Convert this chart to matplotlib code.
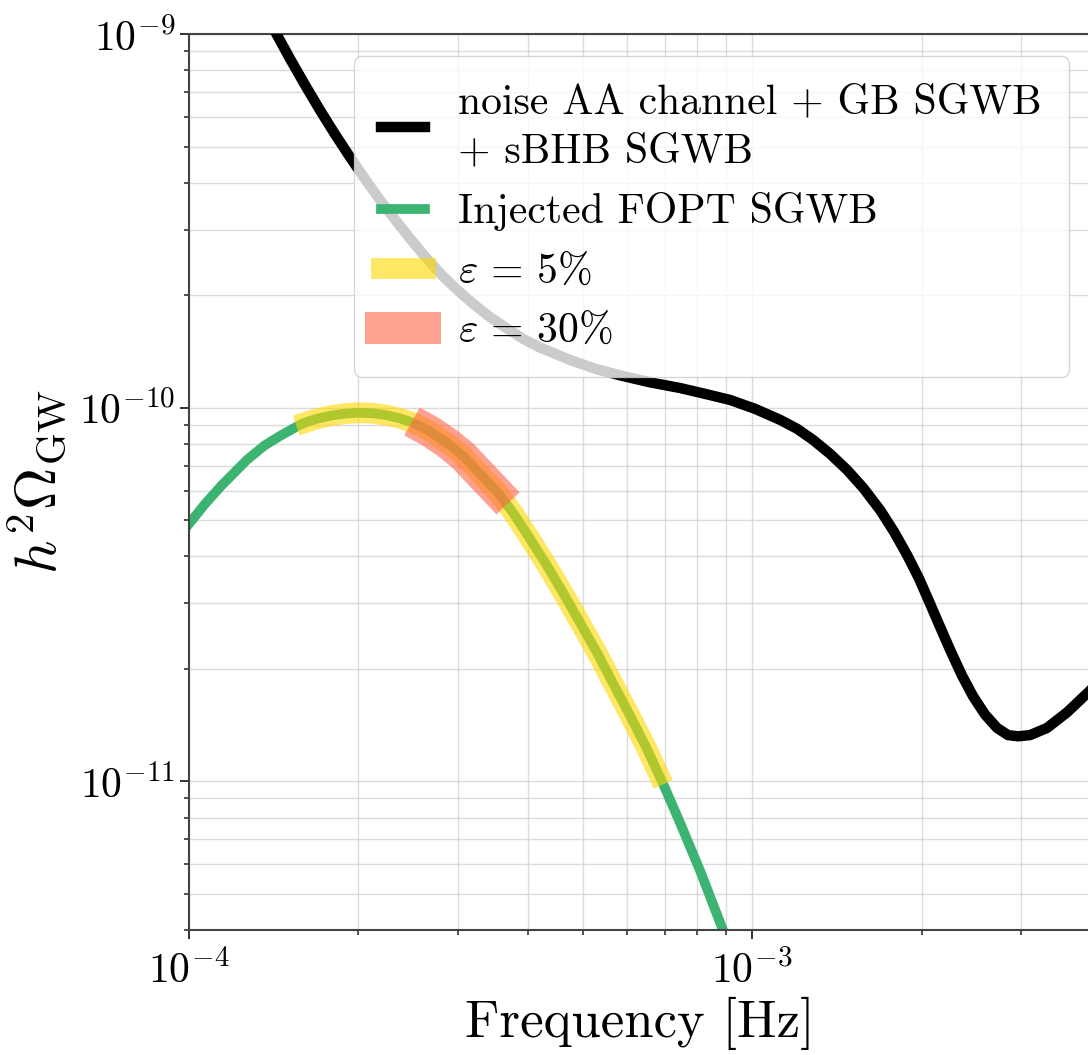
import numpy as np
import matplotlib
matplotlib.use("Agg")
import matplotlib.pyplot as plt

#computer modern look without latex
plt.rcParams['font.family'] = 'serif'
plt.rcParams['font.serif'] = ['cmr10', 'DejaVu Serif']
plt.rcParams['mathtext.fontset'] = 'cm'
plt.rcParams['axes.formatter.use_mathtext'] = True
plt.rcParams['axes.unicode_minus'] = False

#noise curve (AA channel + GB + sBHB)
freq_noise = [1.348e-4, 1.433e-4, 1.511e-4, 1.607e-4, 1.708e-4, 1.817e-4, 1.932e-4,
              2.054e-4, 2.184e-4, 2.323e-4, 2.469e-4, 2.626e-4, 2.826e-4, 3.005e-4,
              3.195e-4, 3.424e-4, 3.672e-4, 3.921e-4, 4.202e-4, 4.771e-4, 5.284e-4,
              5.852e-4, 6.589e-4, 7.449e-4, 8.25e-4, 9.137e-4, 1.012e-3, 1.121e-3,
              1.202e-3, 1.283e-3, 1.376e-3, 1.475e-3, 1.575e-3, 1.688e-3, 1.787e-3,
              1.885e-3, 1.980e-3, 2.071e-3, 2.158e-3, 2.248e-3, 2.360e-3, 2.469e-3,
              2.593e-3, 2.724e-3, 2.849e-3, 2.968e-3, 3.118e-3, 3.342e-3, 3.627e-3,
              3.953e-3, 4.151e-3]
omega_noise = [1.185e-9, 9.96e-10, 8.61e-10, 7.32e-10, 6.27e-10, 5.40e-10, 4.69e-10,
               4.10e-10, 3.60e-10, 3.19e-10, 2.84e-10, 2.54e-10, 2.25e-10, 2.06e-10,
               1.90e-10, 1.75e-10, 1.63e-10, 1.53e-10, 1.45e-10, 1.34e-10, 1.27e-10,
               1.22e-10, 1.17e-10, 1.13e-10, 1.09e-10, 1.05e-10, 9.94e-11, 9.29e-11,
               8.79e-11, 8.21e-11, 7.53e-11, 6.82e-11, 6.11e-11, 5.33e-11, 4.66e-11,
               4.04e-11, 3.49e-11, 2.99e-11, 2.59e-11, 2.25e-11, 1.92e-11, 1.69e-11,
               1.51e-11, 1.39e-11, 1.33e-11, 1.32e-11, 1.33e-11, 1.39e-11, 1.53e-11,
               1.73e-11, 1.86e-11]

#injected FOPT signal
freq_fopt = [1.0e-4, 1.068e-4, 1.145e-4, 1.268e-4, 1.359e-4, 1.451e-4, 1.575e-4, 1.614e-4,
             1.674e-4, 1.780e-4, 1.893e-4, 1.996e-4, 2.122e-4, 2.247e-4, 2.370e-4, 2.500e-4,
             2.636e-4, 2.680e-4, 2.873e-4, 3.067e-4, 3.287e-4, 3.525e-4, 3.763e-4, 4.034e-4,
             4.324e-4, 4.616e-4, 4.949e-4, 5.305e-4, 5.664e-4, 6.071e-4, 6.509e-4, 6.835e-4,
             6.949e-4, 7.449e-4, 8.084e-4, 8.845e-4, 9.328e-4]
omega_fopt = [4.89e-11, 5.53e-11, 6.22e-11, 7.26e-11, 7.91e-11, 8.41e-11, 9.01e-11, 9.15e-11,
              9.32e-11, 9.52e-11, 9.65e-11, 9.70e-11, 9.67e-11, 9.55e-11, 9.37e-11, 9.12e-11,
              8.77e-11, 8.65e-11, 8.06e-11, 7.44e-11, 6.66e-11, 5.96e-11, 5.24e-11, 4.46e-11,
              3.78e-11, 3.20e-11, 2.66e-11, 2.21e-11, 1.83e-11, 1.50e-11, 1.22e-11, 1.04e-11,
              9.86e-12, 7.75e-12, 5.77e-12, 4.06e-12, 3.31e-12]

#frequency ranges reconstructed at each precision
range_5 = [1.614e-4, 6.835e-4]
range_30 = [2.636e-4, 3.525e-4]

f = np.array(freq_fopt)
om = np.array(omega_fopt)
m5 = (f >= range_5[0]) & (f <= range_5[1])
m30 = (f >= range_30[0]) & (f <= range_30[1])

fig = plt.figure(figsize=(10.88, 10.55), dpi=100)
ax = fig.add_axes([189/1088, 125/1055, 902/1088, 895.7/1055])

ax.plot(freq_noise, omega_noise, color='black', lw=7.5,
        label='noise AA channel + GB SGWB\n+ sBHB SGWB', zorder=3)
ax.plot(f, om, color='mediumseagreen', lw=7.0, label='Injected FOPT SGWB', zorder=2)
ax.plot(f[m5], om[m5], color='gold', lw=15, alpha=0.6,
        label=r'$\varepsilon\,=\,5\%$', zorder=2.5)
ax.plot(f[m30], om[m30], color='tomato', lw=23, alpha=0.6,
        label=r'$\varepsilon\,=\,30\%$', zorder=2.6)

ax.set_xscale('log')
ax.set_yscale('log')
ax.set_xlim(1e-4, 4e-3)
ax.set_ylim(4e-12, 1e-9)

ax.grid(True, which='both', color='#cccccc', lw=1.0, alpha=0.7)
ax.set_axisbelow(True)

for s in ax.spines.values():
    s.set_color('#444444')
    s.set_linewidth(1.5)
ax.tick_params(which='major', length=6.5, width=1.3, labelsize=30, color='#222222')
ax.tick_params(which='minor', length=3.6, width=1.1, color='#222222')
ax.tick_params(axis='x', which='major', pad=8)

ax.set_xlabel('Frequency [Hz]', fontsize=38, labelpad=4)
ax.set_ylabel(r'$h^2\Omega_{\rm GW}$', fontsize=42, labelpad=8)

leg = ax.legend(loc='upper right', fontsize=30, handlelength=1.05, framealpha=0.8,
                borderaxespad=0.53, borderpad=0.65, labelspacing=0.53, handletextpad=0.8)
leg.get_texts()[0].set_linespacing(1.4)

plt.savefig('out.png', dpi=100)
